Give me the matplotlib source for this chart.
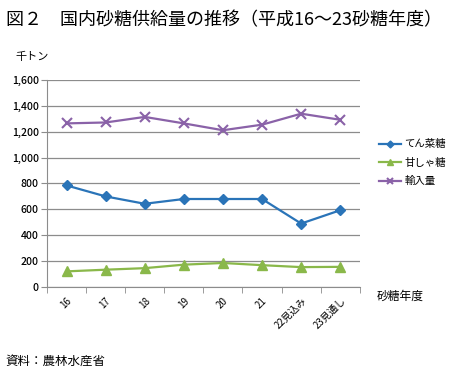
import matplotlib.pyplot as plt
import numpy as np

plt.rcParams['font.family'] = ['Noto Sans CJK JP', 'DejaVu Sans']

years = ['16', '17', '18', '19', '20', '21', '22見込み', '23見通し']
tensai = [785, 700, 643, 680, 680, 680, 490, 593]
kansho = [120, 133, 145, 172, 185, 168, 153, 155]
yunyu = [1265, 1272, 1315, 1265, 1212, 1255, 1340, 1293]

fig = plt.figure(figsize=(4.56, 3.76), dpi=100)
ax = fig.add_axes([0.103, 0.237, 0.686, 0.550])

x = np.arange(len(years))
ax.plot(x, tensai, color='#2a74b8', marker='D', markersize=5, lw=1.6, label='てん菜糖')
ax.plot(x, kansho, color='#8ab84a', marker='^', markersize=7, lw=1.6, label='甘しゃ糖')
ax.plot(x, yunyu, color='#8a62a8', marker='x', markersize=7, mew=1.5, lw=1.6, label='輸入量')

ax.set_xlim(-0.5, len(years) - 0.5)
ax.set_ylim(0, 1600)
ax.set_yticks(range(0, 1601, 200))
ax.set_yticklabels([f'{v:,}' for v in range(0, 1601, 200)], fontsize=7.5, fontweight='medium')
ax.yaxis.grid(True, color='#8c8c8c', lw=0.9)
ax.set_axisbelow(True)
ax.tick_params(axis='y', length=4, color='#8c8c8c', pad=2)

ax.set_xticks(x)
ax.set_xticklabels(years, rotation=45, ha='right', va='top', rotation_mode='anchor', fontsize=7)
ax.tick_params(axis='x', length=0, pad=6)
ax.set_xticks(np.arange(-0.5, len(years)), minor=True)
ax.tick_params(axis='x', which='minor', length=4, color='#8c8c8c')

for s in ['top', 'right']:
    ax.spines[s].set_visible(False)
for s in ['left', 'bottom']:
    ax.spines[s].set_color('#8c8c8c')

ax.legend(loc='center left', bbox_to_anchor=(1.03, 0.6), frameon=False, fontsize=7.5,
          handlelength=2.2, labelspacing=0.8, handletextpad=0.3, markerscale=0.7)

fig.text(0.013, 0.945, '図２　国内砂糖供給量の推移（平成16～23砂糖年度）', fontsize=13, va='center', ha='left')
fig.text(0.035, 0.85, '千トン', fontsize=8, va='center', ha='left')
fig.text(0.825, 0.212, '砂糖年度', fontsize=8.5, va='center', ha='left')
fig.text(0.013, 0.04, '資料：農林水産省', fontsize=9, va='center', ha='left')

fig.savefig('out.png', dpi=100)
